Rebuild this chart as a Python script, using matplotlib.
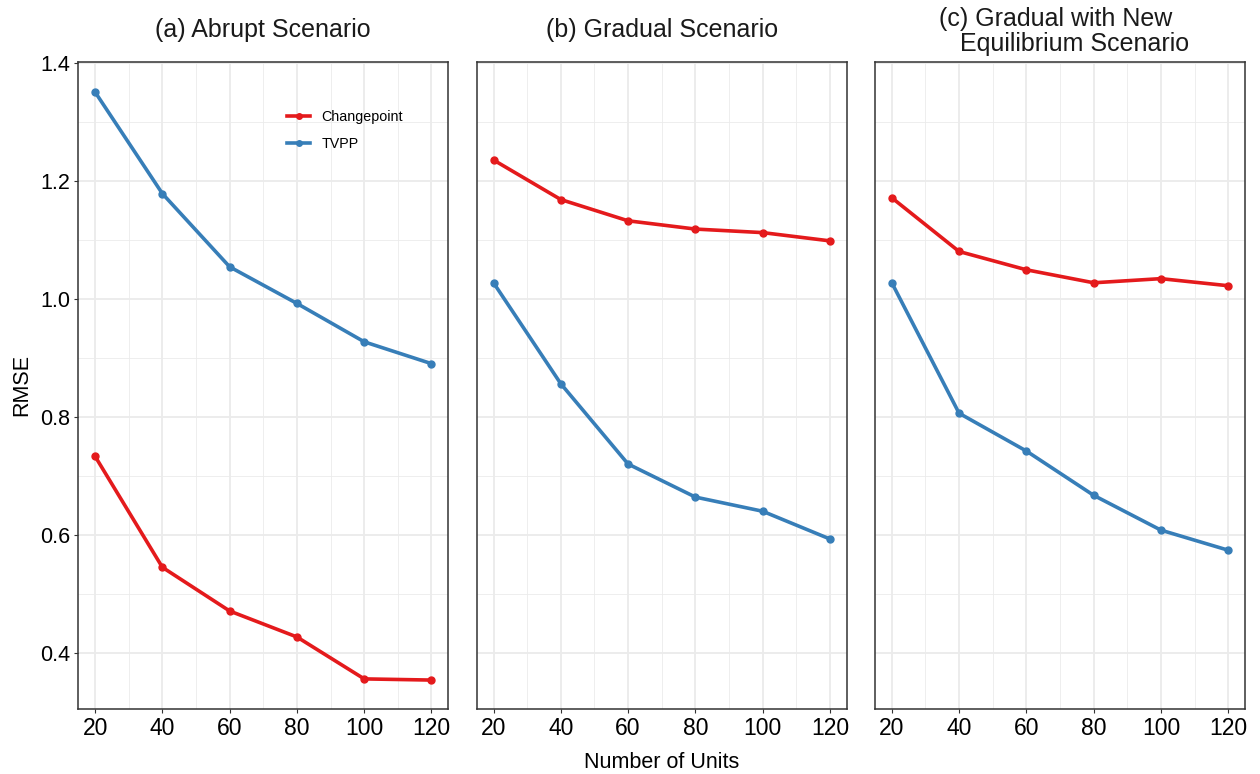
import matplotlib
matplotlib.use('Agg')
import matplotlib.pyplot as plt
from matplotlib.ticker import MultipleLocator

plt.rcParams['font.family'] = ['Liberation Sans', 'DejaVu Sans']

# Dados
units = [20, 40, 60, 80, 100, 120]
titles = ['(a) Abrupt Scenario', '(b) Gradual Scenario',
          '(c) Gradual with New\n   Equilibrium Scenario']

changepoint = [
    [0.733, 0.545, 0.471, 0.427, 0.356, 0.354],
    [1.235, 1.168, 1.132, 1.118, 1.112, 1.098],
    [1.171, 1.080, 1.049, 1.027, 1.034, 1.022],
]
tvpp = [
    [1.350, 1.178, 1.054, 0.992, 0.927, 0.890],
    [1.027, 0.856, 0.720, 0.664, 0.640, 0.593],
    [1.027, 0.806, 0.742, 0.667, 0.608, 0.574],
]

red = '#E41A1C'
blue = '#377EB8'
grid_col = '#EBEBEB'

fig = plt.figure(figsize=(12.6, 7.74), dpi=100)

W, H = 1260, 774
lefts = [78.3, 476.7, 875.0]
pw = 370.0
top, bottom = 62.0, 709.0

axes = []
for i in range(3):
    ax = fig.add_axes([lefts[i] / W, 1 - bottom / H, pw / W, (bottom - top) / H])
    axes.append(ax)

    ax.plot(units, changepoint[i], color=red, lw=2.6, marker='o', ms=5,
            label='Changepoint', zorder=3)
    ax.plot(units, tvpp[i], color=blue, lw=2.6, marker='o', ms=5,
            label='TVPP', zorder=3)

    ax.set_xlim(15, 125)
    ax.set_ylim(0.305, 1.401)
    ax.xaxis.set_major_locator(MultipleLocator(20))
    ax.xaxis.set_minor_locator(MultipleLocator(10))
    ax.yaxis.set_major_locator(MultipleLocator(0.2))
    ax.yaxis.set_minor_locator(MultipleLocator(0.1))
    ax.grid(which='major', color=grid_col, lw=1.3, zorder=0)
    ax.grid(which='minor', color=grid_col, lw=0.6, zorder=0)
    ax.set_axisbelow(True)

    for s in ax.spines.values():
        s.set_color('#333333')
        s.set_linewidth(1.1)

    ax.tick_params(axis='x', which='major', labelsize=16.5, length=3,
                   color='#333333', pad=3, labelcolor='black')
    ax.tick_params(which='minor', length=0)
    if i == 0:
        ax.tick_params(axis='y', which='major', labelsize=15.5, length=3,
                       color='#333333', pad=3, labelcolor='black')
        ax.set_yticklabels([f'{v:.1f}' for v in ax.get_yticks()])
    else:
        ax.tick_params(axis='y', which='both', left=False, labelleft=False)

    # titulo centrado acima de cada painel
    cx = (lefts[i] + pw / 2) / W
    if i < 2:
        fig.text(cx, 1 - 29.5 / H, titles[i], ha='center', va='center',
                 fontsize=18, color='#1A1A1A')
    else:
        fig.text(939 / W, 1 - 31.5 / H, titles[i], ha='left', va='center',
                 fontsize=18, color='#1A1A1A', linespacing=1.08,
                 multialignment='left')

leg = axes[0].legend(loc='upper left', bbox_to_anchor=(0.53, 0.945),
                     frameon=False, fontsize=10.3, handlelength=1.6,
                     handletextpad=0.8, labelspacing=0.85, markerscale=0.8)

fig.text(661.5 / W, 1 - 762 / H, 'Number of Units', ha='center', va='center',
         fontsize=15.5)
fig.text(22 / W, 1 - 385 / H, 'RMSE', ha='center', va='center',
         rotation=90, fontsize=15.5)

fig.savefig('out.png', dpi=100)
